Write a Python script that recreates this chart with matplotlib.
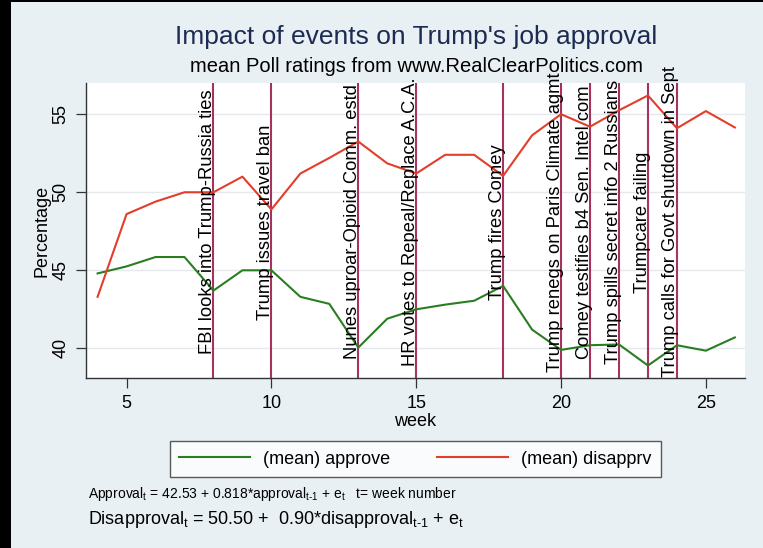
import matplotlib
matplotlib.use("Agg")
import matplotlib.pyplot as plt

plt.rcParams['font.family'] = ['Liberation Sans', 'DejaVu Sans']
plt.rcParams['mathtext.fontset'] = 'custom'
plt.rcParams['mathtext.rm'] = 'Liberation Sans'

week = list(range(4, 27))
approve = [44.8, 45.25, 45.85, 45.85, 43.7, 45.0, 45.0, 43.3, 42.85, 40.05, 41.9, 42.5,
           42.8, 43.05, 44.0, 41.2, 39.9, 40.2, 40.25, 38.9, 40.2, 39.85, 40.7]
disapprv = [43.3, 48.6, 49.4, 50.0, 50.0, 51.0, 48.9, 51.2, 52.2, 53.25, 51.85, 51.2,
            52.4, 52.4, 51.05, 53.65, 55.0, 54.2, 55.25, 56.2, 54.1, 55.2, 54.15]
event_weeks = [8, 10, 13, 15, 18, 20, 21, 22, 23, 24]
event_labels = ["FBI looks into Trump-Russia ties", "Trump issues travel ban",
                "Nunes uproar-Opioid Comm. estd", "HR votes to Repeal/Replace A.C.A.",
                "Trump fires Comey", "Trump renegs on Paris Climate agmt",
                "Comey testifies b4 Sen. Intel com", "Trump spills secret info 2 Russians",
                "Trumpcare failing", "Trump calls for Govt shutdown in Sept"]
label_y = 48.1
xticks = [5, 10, 15, 20, 25]
yticks = [40, 45, 50, 55]

BG = '#e9f0f3'
fig = plt.figure(figsize=(7.63, 5.48), dpi=100, facecolor=BG)
# black strips from the screenshot edges
fig.patches.append(plt.Rectangle((0, 0), 11/763, 1, transform=fig.transFigure,
                                 facecolor='black', edgecolor='none', zorder=-1))
fig.patches.append(plt.Rectangle((0, 1-2/548), 1, 2/548, transform=fig.transFigure,
                                 facecolor='black', edgecolor='none', zorder=-1))

ax = fig.add_axes([86/763, 1-378/548, (745-86)/763, (378-83)/548])
ax.set_facecolor('white')
ax.set_xlim(3.6, 26.35)
ax.set_ylim(38.1, 57.0)

for y in yticks:
    ax.axhline(y, color='#e3e9ec', lw=1.0, zorder=0)

for w in event_weeks:
    ax.axvline(w, color='#a8325f', lw=1.5, zorder=1)

ax.plot(week, approve, color='#2a7d22', lw=1.5, zorder=3, label='(mean) approve')
ax.plot(week, disapprv, color='#e23e2b', lw=1.5, zorder=3, label='(mean) disapprv')

for w, lab in zip(event_weeks, event_labels):
    ax.text(w - 0.05, label_y, lab, rotation=90, rotation_mode='anchor',
            ha='center', va='baseline', fontsize=13.2, color='black',
            clip_on=False, zorder=4)

for s in ['top', 'right']:
    ax.spines[s].set_visible(False)
for s in ['left', 'bottom']:
    ax.spines[s].set_color('#333333')
    ax.spines[s].set_linewidth(1.0)

ax.set_xticks(xticks)
ax.set_yticks(yticks)
ax.tick_params(axis='both', direction='out', length=7, width=0.9, color='#333333',
               labelsize=13, pad=5)
for t in ax.get_yticklabels():
    t.set_rotation(90)
    t.set_va('center')
ax.set_xlabel('week', fontsize=13, labelpad=1)
ax.set_ylabel('Percentage', fontsize=13, labelpad=1)

fig.text(416/763, 1-37/548, "Impact of events on Trump's job approval", ha='center',
         va='center', fontsize=19, color='#1d2b52')
fig.text(416/763, 1-67/548, "mean Poll ratings from www.RealClearPolitics.com", ha='center',
         va='center', fontsize=14.5, color='black')

leg = fig.legend(loc='center', bbox_to_anchor=(415.5/763, 1-459/548), ncol=2,
                 fontsize=13, frameon=True, fancybox=False, edgecolor='#333333',
                 handlelength=3.9, handletextpad=0.75, columnspacing=2.6,
                 borderpad=0.5, borderaxespad=0)
leg.get_frame().set_linewidth(1.0)
leg.get_frame().set_facecolor('white')

fig.text(88/763, 1-494/548,
         r"Approval$_\mathregular{t}$ = 42.53 + 0.818*approval$_\mathregular{t\text{-}1}$ + e$_\mathregular{t}$   t= week number",
         ha='left', va='center', fontsize=10)
fig.text(88/763, 1-519/548,
         r"Disapproval$_\mathregular{t}$ = 50.50 +  0.90*disapproval$_\mathregular{t\text{-}1}$ + e$_\mathregular{t}$",
         ha='left', va='center', fontsize=13)

fig.savefig('out.png', dpi=100, facecolor=BG)
